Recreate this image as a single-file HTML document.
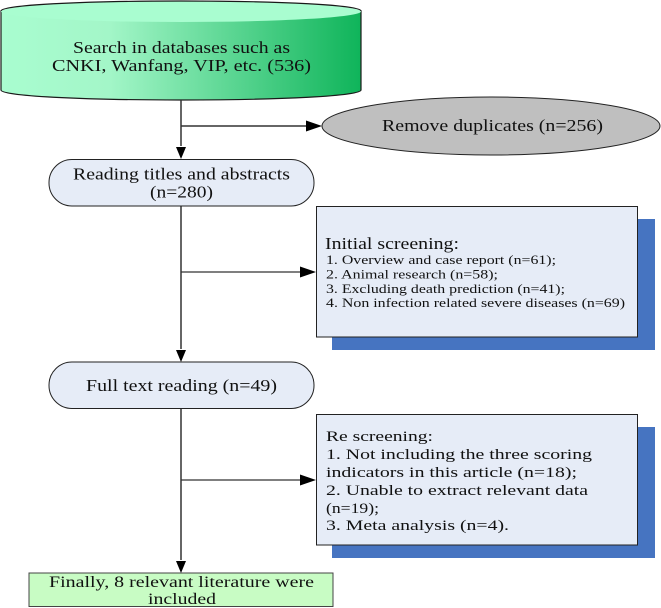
<!DOCTYPE html>
<html><head><meta charset="utf-8"><style>html,body{margin:0;padding:0;background:#fff}svg{display:block;filter:blur(.35px)}text{font-family:"Liberation Serif",serif;fill:#111}</style></head><body>
<svg xmlns="http://www.w3.org/2000/svg" width="661" height="608" viewBox="0 0 661 608">
<defs>
<linearGradient id="g" x1="0" x2="1" y1="0" y2="0"><stop offset="0" stop-color="#a9fdd0"/><stop offset=".3" stop-color="#a3f6c8"/><stop offset="1" stop-color="#0fb45a"/></linearGradient>
</defs>
<!-- shadows -->
<rect x="332" y="219" width="323" height="131" fill="#4674c1"/>
<rect x="332" y="427" width="323" height="131" fill="#4674c1"/>
<!-- cylinder -->
<path d="M1 11V90C1 96 81 100 181 100S361 96 361 90V11Z" fill="url(#g)" stroke="#1a1a1a" stroke-width="1.2"/>
<ellipse cx="181" cy="11.500" rx="180" ry="10.500" fill="#a9fdd0" stroke="none"/>
<path d="M1 11C1 5 81 1 181 1S361 5 361 11" fill="none" stroke="#1a1a1a" stroke-width="1.200"/>
<!-- connectors -->
<g stroke="#333" fill="none">
<path d="M181 100V146" stroke-width="1.500"/><path d="M181 126H308" stroke-width="1.500"/>
<path d="M181 206V349" stroke-width="1.500"/><path d="M181 272H303" stroke-width="1.200"/>
<path d="M181 408V560" stroke-width="1.500"/><path d="M181 480H303" stroke-width="1.200"/>
</g>
<g fill="#000">
<path d="M176 147H186L181 159Z"/><path d="M306 120.500V131.500L322 126Z"/>
<path d="M176 350H186L181 362Z"/><path d="M300 266.500V277.500L316 272Z"/>
<path d="M176 561H186L181 573Z"/><path d="M300 474.500V485.500L316 480Z"/>
</g>
<!-- nodes -->
<ellipse cx="491" cy="126" rx="169" ry="29" fill="#bfbfbf" stroke="#222" stroke-width="1"/>
<rect x="49" y="159.500" width="265" height="46.500" rx="23" fill="#e6ecf7" stroke="#222" stroke-width="1"/>
<rect x="49" y="362" width="265" height="46.500" rx="23" fill="#e6ecf7" stroke="#222" stroke-width="1"/>
<rect x="316.500" y="206.500" width="321" height="130.500" fill="#e6ecf7" stroke="#222" stroke-width="1"/>
<rect x="316.500" y="414.500" width="321" height="130.500" fill="#e6ecf7" stroke="#222" stroke-width="1"/>
<rect x="29" y="573" width="304" height="33.500" fill="#c8fcc4" stroke="#444" stroke-width="1"/>
<!-- labels -->
<text x="73" y="53" font-size="16.500" textLength="217" lengthAdjust="spacingAndGlyphs">Search in databases such as</text>
<text x="52" y="71" font-size="16.500" textLength="259" lengthAdjust="spacingAndGlyphs">CNKI, Wanfang, VIP, etc. (536)</text>
<text x="382" y="131" font-size="16.500" textLength="221" lengthAdjust="spacingAndGlyphs">Remove duplicates (n=256)</text>
<text x="73" y="179.500" font-size="16.500" textLength="217" lengthAdjust="spacingAndGlyphs">Reading titles and abstracts</text>
<text x="150" y="197.500" font-size="16.500" textLength="63" lengthAdjust="spacingAndGlyphs">(n=280)</text>
<text x="86" y="391" font-size="16.500" textLength="191" lengthAdjust="spacingAndGlyphs">Full text reading (n=49)</text>
<text x="325" y="249" font-size="17" textLength="134" lengthAdjust="spacingAndGlyphs">Initial screening:</text>
<text x="326" y="264" font-size="12.500" textLength="230" lengthAdjust="spacingAndGlyphs">1. Overview and case report (n=61);</text>
<text x="326" y="278.500" font-size="12.500" textLength="172" lengthAdjust="spacingAndGlyphs">2. Animal research (n=58);</text>
<text x="326" y="293" font-size="12.500" textLength="239" lengthAdjust="spacingAndGlyphs">3. Excluding death prediction (n=41);</text>
<text x="326" y="307" font-size="12.500" textLength="299" lengthAdjust="spacingAndGlyphs">4. Non infection related severe diseases (n=69)</text>
<text x="326" y="441" font-size="15" textLength="107" lengthAdjust="spacingAndGlyphs">Re screening:</text>
<text x="326" y="459" font-size="15" textLength="266" lengthAdjust="spacingAndGlyphs">1. Not including the three scoring</text>
<text x="326" y="477" font-size="15" textLength="251" lengthAdjust="spacingAndGlyphs">indicators in this article (n=18);</text>
<text x="326" y="495" font-size="15" textLength="262" lengthAdjust="spacingAndGlyphs">2. Unable to extract relevant data</text>
<text x="326" y="513" font-size="15" textLength="53" lengthAdjust="spacingAndGlyphs">(n=19);</text>
<text x="326" y="530" font-size="15" textLength="183" lengthAdjust="spacingAndGlyphs">3. Meta analysis (n=4).</text>
<text x="49" y="587" font-size="15.500" textLength="265" lengthAdjust="spacingAndGlyphs">Finally, 8 relevant literature were</text>
<text x="148" y="604" font-size="15.500" textLength="68" lengthAdjust="spacingAndGlyphs">included</text>
</svg>
</body></html>
